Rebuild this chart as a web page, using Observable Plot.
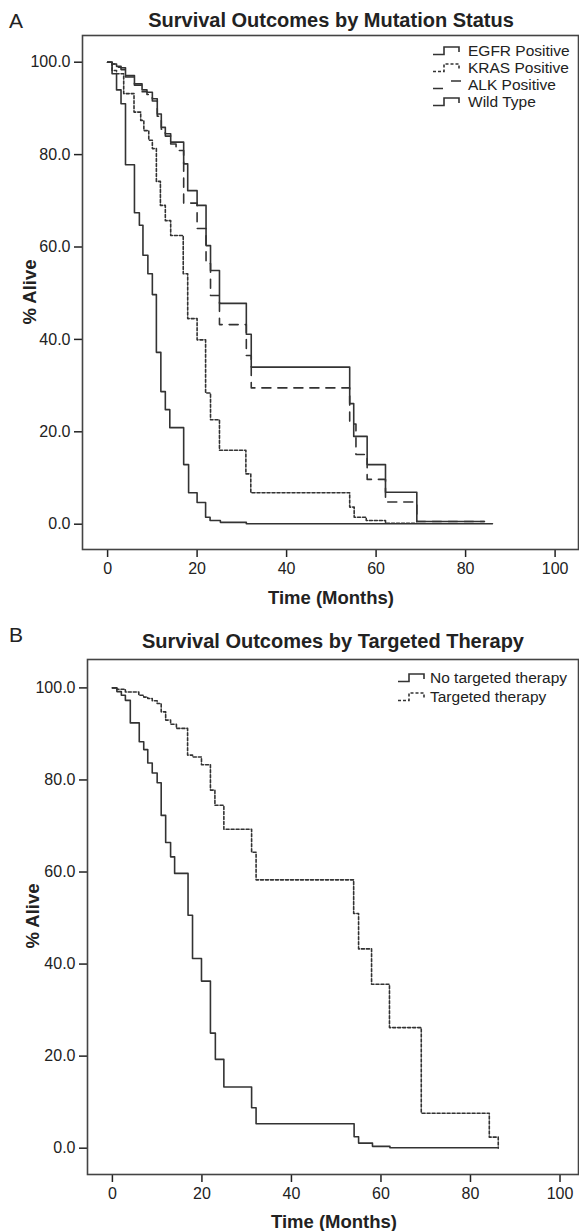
<!DOCTYPE html>
<html><head><meta charset="utf-8">
<script src="https://cdn.jsdelivr.net/npm/d3@7"></script>
<script src="https://cdn.jsdelivr.net/npm/@observablehq/plot@0.6"></script>
<style>
body{margin:0;background:#fff;}
#page{position:relative;width:579px;height:1231px;overflow:hidden;font-family:"Liberation Sans",Arial,sans-serif;color:#222;background:#fff;}
.abs{position:absolute;white-space:nowrap;line-height:1;}
.panel{position:absolute;left:0;}
.title{font-weight:bold;font-size:20px;transform:translate(-50%,-50%);}
.letter{font-size:21px;transform:translate(0,-50%);}
.xlabel{font-weight:bold;font-size:18.5px;transform:translate(-50%,-50%);}
.ylabel{font-weight:bold;font-size:18.5px;transform:translate(-50%,-50%) rotate(-90deg);}
.leg{font-size:15.5px;transform:translate(0,-50%);}
.sym{position:absolute;}
</style></head>
<body><div id="page"></div>
<script>
// ---------- data: Panel A (Mutation Status) ----------
const egfrTime = [0,1,2,3,4,6,7.7,8.8,10,11.1,12,12.9,14.1,17,17.9,20,22,23,25,31,32.1,54.1,55,58,62.1,69.1,84.2];
const egfrSurv = [100,99.6,99.1,98.8,97.1,95.3,94,93.5,92.1,88.8,85.9,84.5,82.7,78,72.2,69,60.3,54.9,47.8,41.1,34.0,26.1,19.0,12.9,6.9,0.6,0.6];

const krasTime = [0,1,2,3.6,5.9,7.4,8.1,9.2,10,10.9,11.8,12.9,14.1,16.9,17.9,20,21.9,23,25,30.9,32,54.1,55.1,57.8,62.1,69.1];
const krasSurv = [100,98.2,97.5,93.2,89.2,87.4,85.2,83.1,81.3,74.2,69.0,65.7,62.5,54.2,44.5,39.9,28.4,22.6,16.0,10.9,6.8,3.7,1.5,0.8,0.2,0.2];

const alkTime = [0,1,2,3,4,6,7.7,8.8,10,11.1,12,12.9,14.1,15.3,17,20,22,23,25,31,32.1,54.1,55.5,58,62.1,69.1,84.2];
const alkSurv = [100,99.6,98.9,98.4,96.8,95.0,93.6,93.0,91.6,88.3,85.5,84.0,82.3,80.9,69.5,64.0,56.4,49.5,43.2,36.5,29.5,21.7,15.1,9.7,4.8,0.6,0.6];

const wildTime = [0,1,2,3,4,6,7.1,7.9,9,10,10.9,11.9,12.9,13.9,17,18.1,20,21.9,22.9,25.2,31,86];
const wildSurv = [100,97.5,94.0,91.0,77.8,67.4,64.7,58.2,54.2,49.7,37.2,28.7,24.8,20.9,12.9,6.8,4.7,1.5,0.8,0.4,0.1,0.1];

// ---------- data: Panel B (Targeted Therapy) ----------
const noTargTime = [0,1,2,2.9,4,6,7,7.9,8.9,10,10.9,11.9,13,13.9,16.9,17.9,19.9,21.9,23,24.9,31.1,32.1,54,55,58.1,62,86];
const noTargSurv = [100,99.2,98.4,97.3,92.4,88.3,86.6,83.7,81.5,79.4,72.3,66.4,63.3,59.7,50.6,41.2,36.3,25.0,19.3,13.3,8.8,5.3,2.5,1.1,0.4,0.1,0.1];

const targTime = [0,1,2.9,5.9,7,7.9,8.9,10,10.9,11.9,13,14.3,16.8,17.9,19.9,21.9,22.9,24.9,31.1,32.1,53.9,55,57.9,61.9,69,84.2,86.2];
const targSurv = [100,99.7,99.1,98.4,98.0,97.7,97.2,96.6,94.8,93.0,92.1,91.2,85.4,85.0,83.3,77.8,74.5,69.3,64.3,58.3,51.0,43.3,35.6,26.2,7.6,2.4,0];

// ---------- labels ----------
const xTicks = [0,20,40,60,80,100];
const yTicks = [0,20,40,60,80,100];
const legendA = ["EGFR Positive","KRAS Positive","ALK Positive","Wild Type"];
const legendB = ["No targeted therapy","Targeted therapy"];

const toPts = (t, s) => t.map((d, i) => ({t: d, s: s[i]}));
const page = document.getElementById("page");
const INK = "#333";

function addText(txt, x, y, cls) {
  const d = document.createElement("div");
  d.className = "abs " + cls;
  d.style.left = x + "px"; d.style.top = y + "px";
  d.textContent = txt;
  page.appendChild(d);
  return d;
}
function addSym(x, y, path, dash) {
  const ns = "http://www.w3.org/2000/svg";
  const s = document.createElementNS(ns, "svg");
  s.setAttribute("width", 32); s.setAttribute("height", 14);
  s.setAttribute("class", "sym");
  s.style.left = x + "px"; s.style.top = (y - 7) + "px";
  const p = document.createElementNS(ns, "path");
  p.setAttribute("d", path);
  p.setAttribute("fill", "none");
  p.setAttribute("stroke", INK);
  p.setAttribute("stroke-width", 1.6);
  if (dash) p.setAttribute("stroke-dasharray", dash);
  s.appendChild(p);
  page.appendChild(s);
}

function panel(opts, series) {
  const chart = Plot.plot({
    width: 579, height: opts.height,
    marginTop: opts.mt, marginBottom: opts.mb, marginLeft: opts.ml, marginRight: 1,
    style: {fontFamily: "Liberation Sans, Arial, sans-serif", fontSize: "16px", color: "#222", background: "transparent", overflow: "visible"},
    x: {domain: opts.xd},
    y: {domain: opts.yd},
    marks: [
      Plot.axisX({ticks: xTicks, tickSize: 8, tickPadding: 5, strokeWidth: 1.5, label: null}),
      Plot.axisY({ticks: yTicks, tickSize: 8, tickPadding: 4, strokeWidth: 1.5, tickFormat: d => d.toFixed(1), label: null}),
      ...series.map(sr => Plot.line(toPts(sr.t, sr.s), {
        x: "t", y: "s", curve: "step-after", stroke: INK, strokeWidth: 1.6,
        strokeDasharray: sr.dash || null
      })),
      Plot.frame({stroke: "#444", strokeWidth: 1.6})
    ]
  });
  const wrap = document.createElement("div");
  wrap.className = "panel";
  wrap.style.top = opts.top + "px";
  wrap.appendChild(chart);
  page.appendChild(wrap);
}

// Panel A
panel({top: 0, height: 620, mt: 35, mb: 71, ml: 82, xd: [-5.609, 105.23], yd: [-5.476, 105.78]}, [
  {t: wildTime, s: wildSurv},
  {t: krasTime, s: krasSurv, dash: "3,2"},
  {t: alkTime, s: alkSurv, dash: "9,7"},
  {t: egfrTime, s: egfrSurv}
]);
// Panel B
panel({top: 620, height: 611, mt: 39, mb: 57, ml: 87, xd: [-5.563, 104.13], yd: [-5.717, 106.17]}, [
  {t: noTargTime, s: noTargSurv},
  {t: targTime, s: targSurv, dash: "3,2"}
]);

// Titles and labels
addText("A", 9, 20, "letter");
addText("Survival Outcomes by Mutation Status", 331, 20, "title");
addText("Time (Months)", 331, 598, "xlabel");
addText("% Alive", 30, 292, "ylabel");

addText("B", 9, 634, "letter");
addText("Survival Outcomes by Targeted Therapy", 333, 641, "title");
addText("Time (Months)", 334, 1222, "xlabel");
addText("% Alive", 33, 916, "ylabel");

// Legends
const stepPath = "M1,10.5 H12 V3 H27 V8";
const legA = [
  {y: 51, path: stepPath, dash: null},
  {y: 68, path: stepPath, dash: "3,2"},
  {y: 85, path: "M1,10.5 H11 M19,3 H29", dash: null},
  {y: 102, path: stepPath, dash: null}
];
legendA.forEach((name, i) => {
  addSym(432, legA[i].y, legA[i].path, legA[i].dash);
  addText(name, 468, legA[i].y, "leg");
});
const legB = [{y: 678, dash: null}, {y: 697, dash: "3,2"}];
legendB.forEach((name, i) => {
  addSym(397, legB[i].y, stepPath, legB[i].dash);
  addText(name, 430, legB[i].y, "leg");
});
</script>
</body></html>
